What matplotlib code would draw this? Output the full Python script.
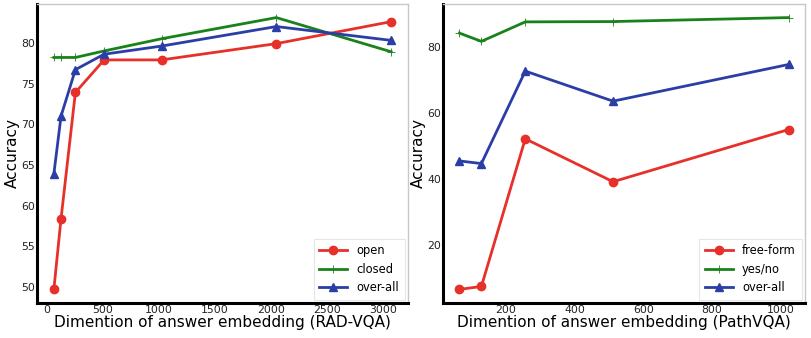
import matplotlib.pyplot as plt
import numpy as np

# RAD-VQA
rad_dims = [64, 128, 256, 512, 1024, 2048, 3072]
rad_open = [49.7, 58.4, 73.9, 77.9, 77.9, 79.9, 82.6]
rad_closed = [78.2, 78.2, 78.2, 79.0, 80.5, 83.1, 78.9]
rad_overall = [63.9, 71.0, 76.7, 78.6, 79.6, 82.0, 80.3]

# PathVQA
path_dims = [64, 128, 256, 512, 1024]
path_free = [6.6, 7.5, 52.2, 39.2, 55.0]
path_yesno = [84.2, 81.7, 87.6, 87.7, 88.9]
path_overall = [45.5, 44.7, 72.7, 63.6, 74.7]

RED = '#e8302a'
GREEN = '#1a821a'
BLUE = '#2b3ea6'


def style_ax(ax):
    for s in ['top', 'right']:
        ax.spines[s].set_color('#c8c8c8')
        ax.spines[s].set_linewidth(1)
    for s in ['left', 'bottom']:
        ax.spines[s].set_color('black')
        ax.spines[s].set_linewidth(2.2)
    ax.tick_params(length=0, labelsize=7.8, colors='#222222', pad=1.5)
    ax.set_ylabel("Accuracy", fontsize=11, labelpad=1)


def plotting(ax, x, s1, s2, s3, labels, xlabel):
    ax.plot(x, s1, marker='o', markersize=6, color=RED, linewidth=2, label=labels[0])
    ax.plot(x, s2, marker='+', markersize=6, markeredgewidth=0.6, color=GREEN, linewidth=2, label=labels[1])
    ax.plot(x, s3, marker='^', markersize=6, color=BLUE, linewidth=2, label=labels[2])
    ax.set_xlabel(xlabel, fontsize=11, labelpad=0)
    style_ax(ax)
    leg = ax.legend(loc='lower right', fontsize=8.3, frameon=True, fancybox=False,
                    borderpad=0.5, handlelength=2.4, borderaxespad=0.3, labelspacing=0.45)
    leg.get_frame().set_edgecolor('#e0e0e0')
    leg.get_frame().set_linewidth(0.8)


fig = plt.figure(figsize=(8.11, 3.38), dpi=100)
ax1 = fig.add_axes([37 / 811, 35 / 338, 371 / 811, 299 / 338])
ax2 = fig.add_axes([443 / 811, 35 / 338, 362 / 811, 299 / 338])

plotting(ax1, rad_dims, rad_open, rad_closed, rad_overall,
         ["open", "closed", "over-all"], "Dimention of answer embedding (RAD-VQA)")
ax1.set_yticks([50, 55, 60, 65, 70, 75, 80])
ax1.set_xticks([0, 500, 1000, 1500, 2000, 2500, 3000])

plotting(ax2, path_dims, path_free, path_yesno, path_overall,
         ["free-form", "yes/no", "over-all"], "Dimention of answer embedding (PathVQA)")
ax2.set_yticks([20, 40, 60, 80])
ax2.set_xticks([200, 400, 600, 800, 1000])

plt.savefig('out.png')
plt.close()
